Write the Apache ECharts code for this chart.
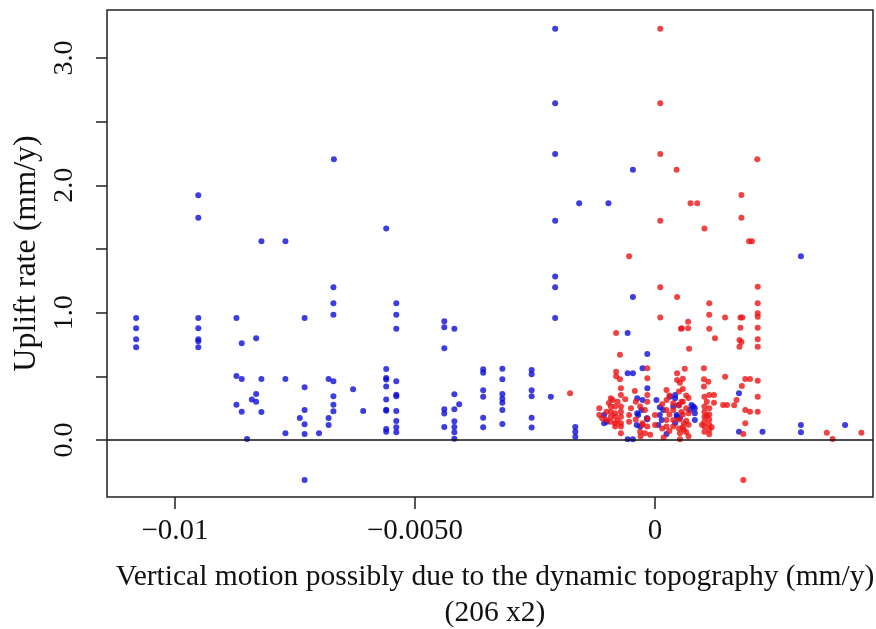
<!DOCTYPE html>
<html>
<head>
<meta charset="utf-8">
<script src="https://cdn.jsdelivr.net/npm/echarts@6/dist/echarts.min.js"></script>
<style>
html,body{margin:0;padding:0;background:#fff;}
#chart{width:876px;height:629px;}
</style>
</head>
<body>
<div id="chart"></div>
<script>
// Tick positions and labels
const xTickValues = [-0.01, -0.005, 0];
const xTickLabels = ['\u22120.01', '\u22120.0050', '0'];
const yTickValues = [0, 0.5, 1, 1.5, 2, 2.5, 3];
const yLabelValues = [0, 1, 2, 3];
const yLabelTexts = ['0.0', '1.0', '2.0', '3.0'];
const xTitle = 'Vertical motion possibly due to the dynamic topography (mm/y)';
const xSubTitle = '(206 x2)';
const yTitle = 'Uplift rate (mm/y)';

// Blue points [x, y]
const bluePoints = [
  [-0.009515,1.922],[-0.009515,1.746],[-0.0082,1.56],[-0.0077,1.56],[-0.00669,2.204],[-0.0056,1.66],
  [-0.01081,0.958],[-0.01081,0.877],[-0.01081,0.791],[-0.01081,0.728],
  [-0.009515,0.958],[-0.009515,0.877],[-0.009515,0.791],[-0.009515,0.775],[-0.009515,0.728],
  [-0.00872,0.958],[-0.00861,0.759],[-0.00831,0.799],
  [-0.00872,0.503],[-0.00861,0.479],[-0.0082,0.479],[-0.0077,0.479],
  [-0.0073,0.958],[-0.0067,1.20],[-0.0067,1.073],[-0.0067,0.984],
  [-0.0073,0.414],[-0.0068,0.479],[-0.0067,0.461],[-0.00629,0.398],
  [-0.0067,0.343],[-0.0067,0.277],[-0.0067,0.225],[-0.0068,0.173],[-0.0068,0.118],[-0.00608,0.228],
  [-0.00872,0.277],[-0.00861,0.222],[-0.00831,0.361],[-0.0084,0.317],[-0.00831,0.301],[-0.0082,0.22],
  [-0.0085,0.008],[-0.0077,0.052],[-0.0073,0.236],[-0.0074,0.173],[-0.0073,0.123],[-0.0073,0.047],
  [-0.007,0.052],[-0.0073,-0.314],
  [-0.0056,0.558],[-0.0056,0.487],[-0.0056,0.474],[-0.0056,0.419],[-0.0056,0.317],[-0.0056,0.238],
  [-0.0056,0.23],[-0.0056,0.086],[-0.0056,0.065],
  [-0.00539,1.073],[-0.00539,0.984],[-0.00539,0.874],
  [-0.00539,0.461],[-0.00539,0.356],[-0.00539,0.343],[-0.00539,0.228],[-0.00539,0.149],[-0.00539,0.1],[-0.00539,0.06],
  [-0.00439,0.932],[-0.00439,0.885],[-0.00439,0.72],[-0.00418,0.874],
  [-0.00439,0.241],[-0.00439,0.207],[-0.00439,0.102],
  [-0.00418,0.359],[-0.00418,0.241],[-0.00408,0.28],[-0.00418,0.147],[-0.00418,0.102],[-0.00418,0.06],[-0.00418,0.01],
  [-0.00358,0.555],[-0.00358,0.528],[-0.00358,0.39],[-0.00358,0.34],[-0.00358,0.175],[-0.00358,0.1],
  [-0.00318,0.56],[-0.00318,0.477],[-0.00318,0.361],[-0.00318,0.324],[-0.00318,0.293],[-0.00318,0.236],[-0.00318,0.126],
  [-0.00257,0.55],[-0.00257,0.516],[-0.00257,0.39],[-0.00257,0.343],[-0.00257,0.175],[-0.00257,0.097],
  [-0.00217,0.34],
  [-0.00166,0.102],[-0.00166,0.065],[-0.00166,0.026],
  [-0.00208,3.23],[-0.00208,2.644],[-0.00208,2.246],[-0.00208,1.722],[-0.00208,1.283],[-0.00208,1.2],[-0.00208,0.958],
  [-0.00046,2.123],[-0.00158,1.859],[-0.00097,1.859],[-0.00046,1.123],
  [-0.00057,0.84],[-0.00057,0.524],[-0.00046,0.524],[-0.00057,0.005],[-0.00046,0.005],
  [-0.00016,0.675],[-0.00026,0.563],[-0.00016,0.406],[-0.00037,0.327],[-0.00026,0.314],[-0.00037,0.209],[-0.00016,0.163],
  [-0.00106,0.196],[-0.00106,0.131],[-0.001,0.144],
  [0.00003,0.314],[0.0001,0.257],[0.00017,0.236],[0.0001,0.196],[0.00014,0.157],[0.00007,0.118],[0.00024,0.047],
  [0.00031,0.34],[0.00042,0.327],[0.00038,0.262],[0.00049,0.275],[0.00045,0.196],[0.00052,0.17],[0.00042,0.131],
  [0.00073,0.236],[0.0008,0.262],[0.00083,0.209],[0.00083,0.157],[0.00076,0.275],[0.00083,0.249],
  [-0.00028,0.236],[-0.00035,0.196],[-0.00017,0.17],[-0.00038,0.118],[-0.00031,0.105],[0.00042,0.353],[0.00046,0.183],
  [0.00175,0.367],[0.00175,0.065],[0.00224,0.065],[0.00304,1.443],[0.00304,0.118],[0.00304,0.06],[0.00396,0.118]
];

// Red points [x, y]
const redPoints = [
  [0.00011,3.23],[0.00011,2.644],[0.00011,2.246],[0.00045,2.123],[0.00074,1.859],[0.00088,1.859],
  [0.0018,1.924],[0.00213,2.204],[0.00011,1.722],[0.0018,1.746],[0.00103,1.66],[0.00196,1.56],[0.00202,1.56],
  [-0.00054,1.443],
  [0.00011,1.2],[0.00046,1.123],[0.00011,0.961],[0.00054,0.874],
  [0.00214,1.204],[0.00214,1.073],[0.00214,0.995],[0.00214,0.968],[0.00214,0.882],[0.00214,0.791],[0.00214,0.733],
  [0.00113,1.073],[0.00113,0.984],[0.00113,0.874],[0.00125,0.799],[0.00146,0.961],
  [0.00178,0.961],[0.00182,0.961],[0.00178,0.882],[0.00176,0.785],[0.0018,0.77],[0.00176,0.733],
  [0.00069,0.929],[0.00069,0.877],[0.00056,0.877],[0.00071,0.717],
  [-0.00081,0.84],[-0.00073,0.67],[-0.00081,0.536],[-0.00073,0.477],[-0.00081,0.5],
  [0.00102,0.563],[0.00102,0.477],[0.00111,0.458],[0.00102,0.419],
  [0.00146,0.497],[0.00188,0.479],[0.00198,0.479],[0.00214,0.466],[0.00181,0.424],
  [0.0017,0.314],[0.00165,0.272],[0.00214,0.34],[0.00142,0.275],[0.0015,0.275],
  [0.00188,0.236],[0.00198,0.222],[0.00214,0.222],[0.00188,0.131],[0.00184,0.047],[0.00184,-0.314],
  [0.00358,0.057],[0.0037,0.008],[0.0043,0.057],
  [-0.00177,0.367],
  [-0.00116,0.249],[-0.00116,0.196],[-0.00101,0.222],[-0.00101,0.157],[-0.00092,0.327],[-0.00088,0.314],
  [-0.00092,0.262],[-0.00083,0.262],[-0.00071,0.262],[-0.00092,0.222],[-0.00083,0.209],[-0.00071,0.222],
  [-0.00092,0.183],[-0.00083,0.183],[-0.00071,0.183],[-0.00092,0.144],[-0.00083,0.131],[-0.00071,0.131],
  [-0.00083,0.105],[-0.00071,0.105],[-0.00071,0.053],[-0.00071,0.406],[-0.00071,0.353],
  [-0.00054,0.196],[-0.00054,0.144],
  [-0.00042,0.385],[-0.00031,0.262],[-0.00021,0.236],[-0.00026,0.118],[-0.00026,0.131],[-0.00021,0.053],
  [-0.00031,0.065],[-0.00016,0.17],[-0.00016,0.105],[-0.00016,0.563],[-0.00016,0.485],[-0.00016,0.353],
  [-0.00016,0.3],[0,0.196],[0,0.118],[-0.0001,0.04],
  [0.00024,0.393],[0.00024,0.314],[0.00024,0.236],[0.00024,0.157],[0.00024,0.105],[0.00018,0.02],
  [0.00046,0.524],[0.00046,0.471],[0.00038,0.288],[0.00038,0.236],[0.00038,0.157],[0.00038,0.105],
  [0.00052,0.053],[0.00052,0.005],[0.00055,0.3],[0.00055,0.22],[0.0006,0.13],[0.0006,0.08],
  [0.00103,0.34],[0.00113,0.353],[0.00123,0.353],[0.00123,0.293],[0.00103,0.262],[0.00113,0.25],
  [0.00103,0.222],[0.00113,0.2],[0.00103,0.183],[0.00113,0.16],[0.00103,0.144],[0.00113,0.12],
  [0.00103,0.105],[0.00113,0.08],[0.00103,0.065],[0.00113,0.045],
  [0.00058,0.4],[0.00065,0.35],[0.00058,0.3],[0.00065,0.25],[0.00058,0.2],[0.00065,0.15],
  [0.00058,0.1],[0.00065,0.06],[0.00052,0.45],[0.00062,0.56],[0.00058,0.48],
  [0.0005,0.38],[0.0007,0.33],[0.0005,0.27],[0.0007,0.21],[0.0005,0.16],[0.0007,0.12],[0.0005,0.09],[0.0007,0.03],
  [0.0003,0.35],[0.0003,0.2],[0.0003,0.07],[0.00015,0.28],[0.00015,0.09],
  [-0.0004,0.3],[-0.0004,0.16],[-0.0003,0.03],[-0.0005,0.25],
  [-0.00096,0.29],[-0.0011,0.17],[-0.00078,0.15],[-0.00078,0.3],[-0.00062,0.32],
  [0.00108,0.3],[0.00108,0.19],[0.00098,0.12],[0.00118,0.1]
];

const FONT = '"Liberation Serif", "DejaVu Serif", serif';
const chart = echarts.init(document.getElementById('chart'), null, {renderer: 'canvas'});
chart.setOption({
  animation: false,
  backgroundColor: '#ffffff',
  grid: {
    left: 107, top: 10, right: 3, bottom: 132,
    outerBoundsMode: 'none', containLabel: false,
    show: true, borderColor: '#222', borderWidth: 1.5, backgroundColor: 'transparent'
  },
  xAxis: {
    type: 'value',
    min: -0.011417, max: 0.004542,
    axisLine: {show: false, onZero: false},
    splitLine: {show: false},
    axisTick: {show: true, inside: false, length: 12, customValues: xTickValues,
      lineStyle: {color: '#222', width: 1.5}},
    axisLabel: {show: true, customValues: xTickValues, margin: 20,
      fontFamily: FONT, fontSize: 29, color: '#111',
      formatter: function (v) {
        const i = xTickValues.findIndex(t => Math.abs(t - v) < 1e-9);
        return i >= 0 ? xTickLabels[i] : '';
      }},
    name: xTitle + '\n' + xSubTitle,
    nameLocation: 'middle',
    nameGap: 62,
    nameTextStyle: {fontFamily: FONT, fontSize: 29.5, color: '#111', lineHeight: 36, verticalAlign: 'top', padding: [0, 0, 0, 10]}
  },
  yAxis: {
    type: 'value',
    min: -0.448, max: 3.377,
    axisLine: {show: false, onZero: false},
    splitLine: {show: false},
    axisTick: {show: true, inside: false, length: 11, customValues: yTickValues,
      lineStyle: {color: '#222', width: 1.5}},
    axisLabel: {show: true, customValues: yLabelValues, margin: 28, rotate: 90,
      fontFamily: FONT, fontSize: 28, color: '#111',
      formatter: function (v) {
        const i = yLabelValues.findIndex(t => Math.abs(t - v) < 1e-9);
        return i >= 0 ? yLabelTexts[i] : '';
      }},
    name: yTitle,
    nameLocation: 'middle',
    nameGap: 64,
    nameTextStyle: {fontFamily: FONT, fontSize: 32, color: '#111'}
  },
  series: [
    {
      type: 'scatter', name: 'blue', data: bluePoints, symbolSize: 6,
      itemStyle: {color: '#0c0cd8'},
      markLine: {
        silent: true, symbol: ['none', 'none'], label: {show: false},
        lineStyle: {color: '#111', width: 1.5, type: 'solid'},
        data: [{yAxis: 0}]
      }
    },
    {
      type: 'scatter', name: 'red', data: redPoints, symbolSize: 6,
      itemStyle: {color: '#ee1414'}
    }
  ]
});
</script>
</body>
</html>
